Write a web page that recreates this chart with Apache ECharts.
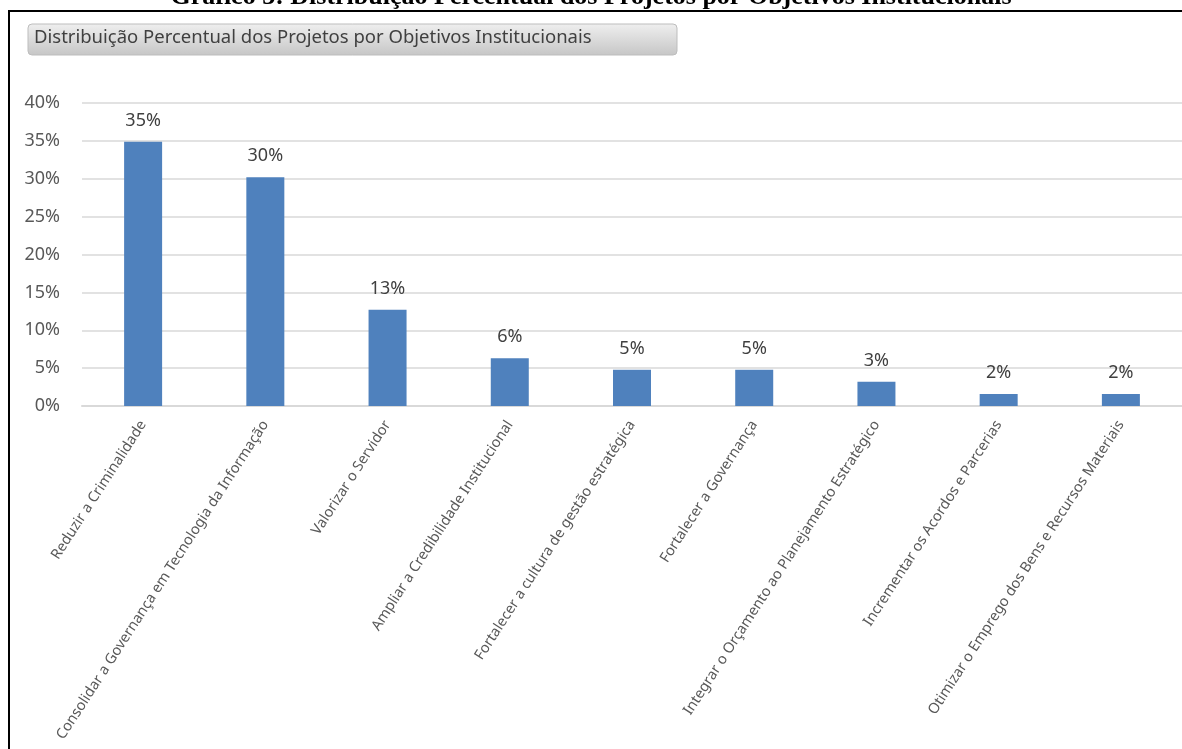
<!DOCTYPE html>
<html>
<head>
<meta charset="utf-8">
<script src="https://cdn.jsdelivr.net/npm/echarts@6/dist/echarts.min.js"></script>
<style>
  html, body { margin: 0; padding: 0; background: #fff; }
  #chart { width: 1182px; height: 749px; }
</style>
</head>
<body>
<div id="chart"></div>
<script>
// objetivos institucionais (eixo x)
var categorias = [
    'Reduzir a Criminalidade',
    'Consolidar a Governança em Tecnologia da Informação',
    'Valorizar o Servidor',
    'Ampliar a Credibilidade Institucional',
    'Fortalecer a cultura de gestão estratégica',
    'Fortalecer a Governança',
    'Integrar o Orçamento ao Planejamento Estratégico',
    'Incrementar os Acordos e Parcerias',
    'Otimizar o Emprego dos Bens e Recursos Materiais'
];
// percentual de projetos
var percentuais = [34.9, 30.2, 12.7, 6.3, 4.8, 4.8, 3.2, 1.6, 1.6];
// eixo y
var yMin = 0, yMax = 40, yStep = 5;

var tituloPagina = 'Gráfico 3: Distribuição Percentual dos Projetos por Objetivos Institucionais';
var tituloGrafico = 'Distribuição Percentual dos Projetos por Objetivos Institucionais';

var fonte = '"Noto Sans", "Open Sans", sans-serif';

var dom = document.getElementById('chart');
var myChart = echarts.init(dom);
myChart.setOption({
    animation: false,
    textStyle: { fontFamily: fonte },
    grid: {
        left: 82,
        top: 103,
        width: 1106,
        height: 303,
        containLabel: false
    },
    graphic: [
        { // moldura preta
            type: 'rect',
            shape: { x: 9, y: 11, width: 1200, height: 800 },
            style: { fill: 'none', stroke: '#000', lineWidth: 2 }
        },
        { // título da página (cortado)
            type: 'text',
            left: 'center',
            top: -16,
            style: {
                text: tituloPagina,
                font: 'bold 26px "Liberation Serif", "DejaVu Serif", serif',
                fill: '#000'
            }
        },
        { // caixa do título
            type: 'rect',
            shape: { x: 28, y: 24, width: 649, height: 31, r: 4 },
            style: {
                fill: new echarts.graphic.LinearGradient(0, 0, 0, 1, [
                    { offset: 0, color: '#efefef' },
                    { offset: 1, color: '#c6c6c6' }
                ]),
                stroke: '#bdbdbd',
                lineWidth: 1
            }
        },
        {
            type: 'text',
            left: 34,
            top: 28,
            style: {
                text: tituloGrafico,
                font: '18.5px ' + fonte,
                fill: '#404040'
            }
        }
    ],
    xAxis: {
        type: 'category',
        data: categorias,
        axisLine: { show: true, lineStyle: { color: '#d9d9d9', width: 2 } },
        axisTick: { show: false },
        axisLabel: {
            interval: 0,
            rotate: 57,
            fontSize: 14.5,
            color: '#595959',
            margin: 16
        }
    },
    yAxis: {
        type: 'value',
        min: yMin,
        max: yMax,
        interval: yStep,
        axisLine: { show: false },
        axisTick: { show: false },
        axisLabel: {
            formatter: '{value}%',
            fontSize: 18,
            color: '#595959',
            margin: 22
        },
        splitLine: { lineStyle: { color: '#d9d9d9', width: 1.5 } }
    },
    series: [
        {
            name: 'Percentual',
            type: 'bar',
            data: percentuais,
            barWidth: 38,
            itemStyle: { color: '#4f81bd' },
            label: {
                show: true,
                position: 'top',
                distance: 12,
                fontSize: 18,
                color: '#404040',
                formatter: function (p) { return Math.round(p.value) + '%'; }
            }
        }
    ]
});
window.addEventListener('resize', function () {
    myChart.resize();
});
</script>
</body>
</html>
